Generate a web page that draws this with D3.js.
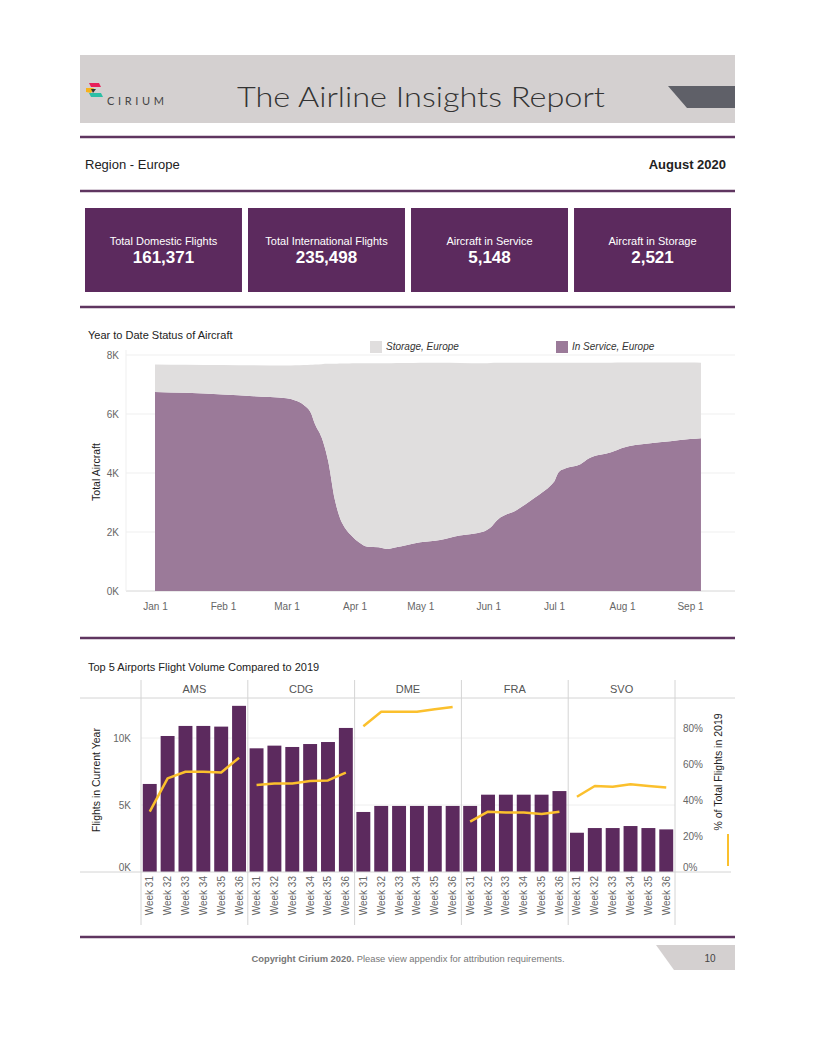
<!DOCTYPE html>
<html>
<head>
<meta charset="utf-8">
<script src="https://cdn.jsdelivr.net/npm/d3@7"></script>
<style>
  body { margin: 0; background: #fff; }
  svg { display: block; font-family: "Liberation Sans", Arial, sans-serif; }
</style>
</head>
<body>
<div id="page"></div>
<script>
// KPI tiles
const kpiLabels = ["Total Domestic Flights", "Total International Flights", "Aircraft in Service", "Aircraft in Storage"];
const kpiValues = [161371, 235498, 5148, 2521];

// Year to date status of aircraft (2020)
const ytdDates = ["2020-01-01","2020-01-15","2020-02-01","2020-02-15","2020-03-01","2020-03-05","2020-03-09",
  "2020-03-12","2020-03-14","2020-03-17","2020-03-20","2020-03-23","2020-03-25","2020-03-28","2020-03-31",
  "2020-04-03","2020-04-07","2020-04-12","2020-04-16","2020-04-20","2020-04-25","2020-05-01","2020-05-10",
  "2020-05-19","2020-05-30","2020-06-02","2020-06-05","2020-06-14","2020-06-22","2020-06-30","2020-07-01",
  "2020-07-03","2020-07-06","2020-07-13","2020-07-17","2020-07-27","2020-08-01","2020-08-13","2020-08-23",
  "2020-09-01","2020-09-06"];
const inService = [6750,6720,6660,6600,6530,6460,6300,6050,5650,5200,4400,3100,2550,2100,1850,
  1650,1500,1480,1420,1480,1560,1650,1730,1880,2020,2150,2400,2750,3150,3620,3700,
  4020,4150,4300,4500,4700,4850,5000,5080,5150,5180];
const storage = [930,950,1000,1050,1110,1190,1360,1620,2030,2490,3300,4600,5160,5610,5870,
  6070,6220,6240,6300,6250,6170,6090,6010,5850,5700,5580,5340,4990,4590,4120,4040,
  3720,3590,3440,3240,3040,2895,2745,2665,2595,2560];
const ytdTicks = [0, 2000, 4000, 6000, 8000];

// Top 5 airports
const airports = ["AMS", "CDG", "DME", "FRA", "SVO"];
const weeks = ["Week 31", "Week 32", "Week 33", "Week 34", "Week 35", "Week 36"];
const amsFlights = [6570, 10150, 10900, 10900, 10850, 12400];
const cdgFlights = [9230, 9430, 9330, 9550, 9700, 10750];
const dmeFlights = [4480, 4930, 4930, 4930, 4930, 4930];
const fraFlights = [4930, 5770, 5770, 5770, 5770, 6040];
const svoFlights = [2930, 3280, 3280, 3430, 3280, 3180];
const amsPct = [33.5, 52, 55.7, 55.7, 55.3, 63.5];
const cdgPct = [48.3, 49.2, 49.2, 50.5, 50.9, 55.2];
const dmePct = [81, 89, 89, 89, 90.4, 91.7];
const fraPct = [28, 33.5, 33.1, 33, 32.2, 33.5];
const svoPct = [41.8, 47.8, 47.4, 48.7, 47.8, 47];
const flightTicks = [0, 5000, 10000];
const pctTicks = [0, 20, 40, 60, 80];

const purple = "#5c2a5e";
const rule = "#5f3560";
const axisGrey = "#666";

const svg = d3.select("#page").append("svg")
    .attr("width", 816)
    .attr("height", 1056);

// ---------- header ----------
svg.append("rect").attr("x", 80).attr("y", 55).attr("width", 655).attr("height", 68).attr("fill", "#d4d0d0");
svg.append("polygon").attr("points", "668,86 735,86 735,108 687,108").attr("fill", "#5f6068");

// cirium logo
svg.append("polygon").attr("points", "89,83 99,83 101,87 91,87").attr("fill", "#e8205a");
svg.append("polygon").attr("points", "86,88 94,88 91,93 86,92").attr("fill", "#f6b21b");
svg.append("polygon").attr("points", "91,89 96,89 93,93").attr("fill", "#333");
svg.append("polygon").attr("points", "89,93 101,93 103,97 91,97").attr("fill", "#2dbfa5");
svg.append("text").attr("x", 107).attr("y", 105)
    .attr("font-family", "Lato, 'Open Sans', sans-serif").attr("font-size", 11)
    .attr("textLength", 57).attr("lengthAdjust", "spacing")
    .attr("fill", "#444").text("CIRIUM");

svg.append("text").attr("x", 237).attr("y", 107)
    .attr("font-family", "Lato, 'Open Sans', sans-serif").attr("font-weight", 300).attr("font-size", 28)
    .attr("textLength", 368).attr("lengthAdjust", "spacingAndGlyphs")
    .attr("fill", "#333").text("The Airline Insights Report");

// purple rules
[137, 191, 307, 638, 937].forEach(y => {
  svg.append("line").attr("x1", 80).attr("x2", 735).attr("y1", y).attr("y2", y)
      .attr("stroke", rule).attr("stroke-width", 2.5);
});

svg.append("text").attr("x", 85).attr("y", 169).attr("font-size", 13).attr("fill", "#222").text("Region - Europe");
svg.append("text").attr("x", 726).attr("y", 169).attr("font-size", 13).attr("font-weight", "bold")
    .attr("text-anchor", "end").attr("fill", "#222").text("August 2020");

// ---------- KPI tiles ----------
const kx = d3.scaleBand().domain(kpiLabels).range([85, 731]).paddingInner(0.037);
const tiles = svg.selectAll("g.kpi").data(kpiLabels).join("g").attr("class", "kpi")
    .attr("transform", d => `translate(${kx(d)},208)`);
tiles.append("rect").attr("width", kx.bandwidth()).attr("height", 84).attr("fill", purple);
tiles.append("text").attr("x", kx.bandwidth() / 2).attr("y", 37).attr("text-anchor", "middle")
    .attr("font-size", 11).attr("fill", "#fff").text(d => d);
tiles.append("text").attr("x", kx.bandwidth() / 2).attr("y", 55).attr("text-anchor", "middle")
    .attr("font-size", 17).attr("font-weight", "bold").attr("fill", "#fff")
    .text((d, i) => d3.format(",")(kpiValues[i]));

// ---------- year to date area chart ----------
svg.append("text").attr("x", 88).attr("y", 339).attr("font-size", 11).attr("fill", "#222")
    .text("Year to Date Status of Aircraft");

// legend
const legend = [["Storage, Europe", "#e0dede", 370], ["In Service, Europe", "#9b7a99", 556]];
legend.forEach(([name, col, lx]) => {
  svg.append("rect").attr("x", lx).attr("y", 341).attr("width", 12).attr("height", 12).attr("fill", col);
  svg.append("text").attr("x", lx + 16).attr("y", 350).attr("font-size", 10).attr("font-style", "italic")
      .attr("fill", "#333").text(name);
});

const parse = d3.utcParse("%Y-%m-%d");
const ytd = ytdDates.map((d, i) => ({ date: parse(d), inService: inService[i], storage: storage[i] }));

const x = d3.scaleUtc()
    .domain([parse("2020-01-01"), parse("2020-09-01")])
    .range([155, 690]);
const y = d3.scaleLinear().domain([0, 8000]).range([591, 355]);

// grid
svg.append("g").selectAll("line").data(ytdTicks).join("line")
    .attr("x1", 126).attr("x2", 735).attr("y1", d => y(d)).attr("y2", d => y(d))
    .attr("stroke", d => d === 0 ? "#d6d6d6" : "#efefef");
svg.append("line").attr("x1", 126).attr("x2", 126).attr("y1", 350).attr("y2", 591).attr("stroke", "#efefef");

const stack = d3.stack().keys(["inService", "storage"])(ytd);
const area = d3.area()
    .x(d => x(d.data.date))
    .y0(d => y(d[0]))
    .y1(d => y(d[1]))
    .curve(d3.curveMonotoneX);
svg.append("g").selectAll("path").data(stack).join("path")
    .attr("d", area)
    .attr("fill", (d, i) => i === 0 ? "#9b7a99" : "#e0dede");

// y axis
svg.append("g")
    .attr("transform", "translate(122,0)")
    .call(d3.axisLeft(y).tickValues(ytdTicks).tickSize(0).tickFormat(d => d / 1000 + "K"))
    .call(g => g.select(".domain").remove())
    .call(g => g.selectAll("text").attr("font-size", 10).attr("fill", axisGrey)
        .attr("font-family", "Liberation Sans, Arial, sans-serif"));

// x axis
svg.append("g")
    .attr("transform", "translate(0,600)")
    .call(d3.axisBottom(x).ticks(d3.utcMonth.every(1)).tickSize(0).tickFormat(d3.utcFormat("%b %-d")))
    .call(g => g.select(".domain").remove())
    .call(g => g.selectAll("text").attr("font-size", 10).attr("fill", axisGrey)
        .attr("font-family", "Liberation Sans, Arial, sans-serif"));

svg.append("text").attr("transform", "translate(100,472) rotate(-90)").attr("text-anchor", "middle")
    .attr("font-size", 10.5).attr("fill", "#222").text("Total Aircraft");

// ---------- top 5 airports chart ----------
svg.append("text").attr("x", 88).attr("y", 671).attr("font-size", 11).attr("fill", "#222")
    .text("Top 5 Airports Flight Volume Compared to 2019");

const flightSeries = [amsFlights, cdgFlights, dmeFlights, fraFlights, svoFlights];
const pctSeries = [amsPct, cdgPct, dmePct, fraPct, svoPct];

const px = d3.scaleBand().domain(airports).range([141, 675]);
const wx = d3.scaleBand().domain(weeks).range([0, px.bandwidth()]).paddingInner(0.22).paddingOuter(0.1);
const yl = d3.scaleLinear().domain([0, 10000]).range([872, 738]);
const yr = d3.scaleLinear().domain([0, 80]).range([872, 728]);

// grid lines
svg.append("g").selectAll("line").data(flightTicks.slice(1)).join("line")
    .attr("x1", 141).attr("x2", 675).attr("y1", d => yl(d)).attr("y2", d => yl(d))
    .attr("stroke", "#eeeeee");

// header rule, baseline, panel separators
svg.append("line").attr("x1", 80).attr("x2", 735).attr("y1", 698).attr("y2", 698).attr("stroke", "#d4d4d4");
const seps = airports.map(a => px(a)).concat([675]);
svg.append("g").selectAll("line").data(seps).join("line")
    .attr("x1", d => d).attr("x2", d => d).attr("y1", 680).attr("y2", 925)
    .attr("stroke", "#d4d4d4");

// airport headers
svg.append("g").selectAll("text").data(airports).join("text")
    .attr("x", d => px(d) + px.bandwidth() / 2).attr("y", 693)
    .attr("text-anchor", "middle").attr("font-size", 11).attr("fill", "#555").text(d => d);

const panels = svg.selectAll("g.panel").data(airports).join("g").attr("class", "panel")
    .attr("transform", d => `translate(${px(d)},0)`);

panels.selectAll("rect").data((d, i) => flightSeries[i].map((v, j) => ({ week: weeks[j], v })))
    .join("rect")
    .attr("x", d => wx(d.week))
    .attr("width", wx.bandwidth())
    .attr("y", d => yl(d.v))
    .attr("height", d => yl(0) - yl(d.v))
    .attr("fill", purple);

const line = d3.line()
    .x(d => wx(d.week) + wx.bandwidth() / 2)
    .y(d => yr(d.v));
panels.append("path")
    .datum((d, i) => pctSeries[i].map((v, j) => ({ week: weeks[j], v })))
    .attr("d", line)
    .attr("fill", "none")
    .attr("stroke", "#fbc02d")
    .attr("stroke-width", 2.5)
    .attr("stroke-linejoin", "round");

// week labels
panels.selectAll("text.wk").data(weeks).join("text").attr("class", "wk")
    .attr("transform", d => `translate(${wx(d) + wx.bandwidth() / 2},876) rotate(-90)`)
    .attr("dy", "0.35em")
    .attr("text-anchor", "end")
    .attr("font-size", 10).attr("fill", axisGrey).text(d => d);

svg.append("line").attr("x1", 80).attr("x2", 731).attr("y1", 872).attr("y2", 872).attr("stroke", "#d4d4d4");

// left axis
svg.append("g")
    .attr("transform", "translate(134,0)")
    .call(d3.axisLeft(yl).tickValues(flightTicks).tickSize(0).tickFormat(d => d / 1000 + "K"))
    .call(g => g.select(".domain").remove())
    .call(g => g.selectAll("text").attr("font-size", 10).attr("fill", axisGrey)
        .attr("font-family", "Liberation Sans, Arial, sans-serif")
        .attr("dy", d => d === 0 ? "-0.2em" : "0.32em"));

// right axis
svg.append("g")
    .attr("transform", "translate(680,0)")
    .call(d3.axisRight(yr).tickValues(pctTicks).tickSize(0).tickFormat(d => d + "%"))
    .call(g => g.select(".domain").remove())
    .call(g => g.selectAll("text").attr("font-size", 10).attr("fill", axisGrey)
        .attr("font-family", "Liberation Sans, Arial, sans-serif")
        .attr("dy", d => d === 0 ? "-0.2em" : "0.32em"));

svg.append("text").attr("transform", "translate(100,780) rotate(-90)").attr("text-anchor", "middle")
    .attr("font-size", 10.5).attr("fill", "#222").text("Flights in Current Year");
svg.append("text").attr("transform", "translate(722,772) rotate(-90)").attr("text-anchor", "middle")
    .attr("font-size", 10.5).attr("fill", "#222").text("% of Total Flights in 2019");
svg.append("line").attr("x1", 728).attr("x2", 728).attr("y1", 834).attr("y2", 866)
    .attr("stroke", "#fbc02d").attr("stroke-width", 2);

// ---------- footer ----------
svg.append("polygon").attr("points", "656,945 735,945 735,970 674,970").attr("fill", "#d4d0d0");
svg.append("text").attr("x", 710).attr("y", 962).attr("text-anchor", "middle").attr("font-size", 10)
    .attr("fill", "#444").text("10");
const foot = svg.append("text").attr("x", 408).attr("y", 962).attr("text-anchor", "middle")
    .attr("font-size", 9.4).attr("fill", "#777");
foot.append("tspan").attr("font-weight", "bold").text("Copyright Cirium 2020.");
foot.append("tspan").text(" Please view appendix for attribution requirements.");
</script>
</body>
</html>
